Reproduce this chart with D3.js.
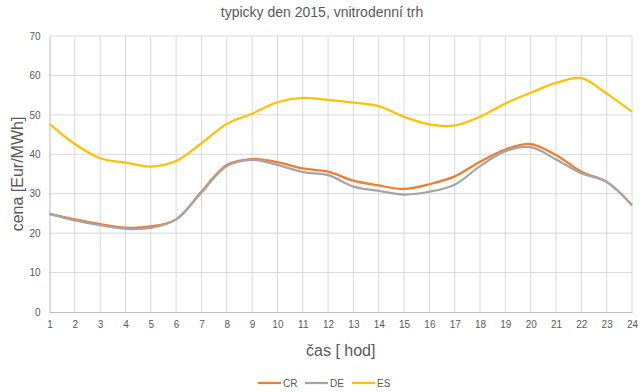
<!DOCTYPE html>
<html>
<head>
<meta charset="utf-8">
<script src="https://cdn.jsdelivr.net/npm/d3@7"></script>
<style>
  body { margin: 0; background: #fff; }
  svg { font-family: "Liberation Sans Narrow", "Liberation Sans", Arial, sans-serif; }
</style>
</head>
<body>
<svg id="chart" width="643" height="392"></svg>
<script>
const hours = d3.range(1, 25);
const seriesNames = ["CR", "DE", "ES"];
const cr = [24.9, 23.5, 22.3, 21.4, 21.7, 23.5, 30.5, 37.3, 38.8, 38.0, 36.4, 35.6,
            33.3, 32.1, 31.2, 32.4, 34.4, 38.1, 41.2, 42.6, 39.8, 35.6, 33.0, 27.1];
const de = [24.9, 23.2, 22.0, 21.1, 21.3, 23.5, 30.3, 37.0, 38.6, 37.3, 35.5, 34.7,
            31.8, 30.7, 29.8, 30.5, 32.3, 37.0, 40.8, 41.8, 38.7, 35.2, 33.0, 27.1];
const es = [47.7, 42.6, 39.0, 37.9, 36.9, 38.3, 42.8, 47.7, 50.3, 53.2, 54.3, 53.8,
            53.1, 52.2, 49.5, 47.6, 47.3, 49.5, 52.9, 55.6, 58.1, 59.3, 55.4, 50.8];
const yTicks = [0, 10, 20, 30, 40, 50, 60, 70];
const colors = ["#ED7D31", "#A5A5A5", "#FFC000"];

const svg = d3.select("#chart");
const margin = { top: 36, right: 11, bottom: 80, left: 49.5 };
const width = 643, height = 392;

const x = d3.scaleLinear().domain([1, 24]).range([margin.left, width - margin.right]);
const y = d3.scaleLinear().domain([0, 70]).range([height - margin.bottom, margin.top]);

// mrizka
svg.append("g")
  .selectAll("line.h")
  .data(yTicks.slice(1))
  .join("line")
  .attr("x1", x(1)).attr("x2", x(24))
  .attr("y1", d => y(d)).attr("y2", d => y(d))
  .attr("stroke", "#d9d9d9").attr("stroke-width", 1);

svg.append("g")
  .selectAll("line.v")
  .data(hours.slice(1))
  .join("line")
  .attr("x1", d => x(d)).attr("x2", d => x(d))
  .attr("y1", y(0)).attr("y2", y(70))
  .attr("stroke", "#d9d9d9").attr("stroke-width", 1);

// osy
const yAxis = svg.append("g")
  .attr("transform", `translate(${x(1)},0)`)
  .call(d3.axisLeft(y).tickValues(yTicks).tickSize(0).tickPadding(9));
yAxis.select(".domain").attr("stroke", "#bfbfbf");
yAxis.selectAll("text").attr("fill", "#595959").style("font-size", "10px");

const xAxis = svg.append("g")
  .attr("transform", `translate(0,${y(0)})`)
  .call(d3.axisBottom(x).tickValues(hours).tickFormat(d3.format("d")).tickSize(0).tickPadding(9));
xAxis.select(".domain").attr("stroke", "#bfbfbf");
xAxis.selectAll("text").attr("fill", "#595959").style("font-size", "10px");

// krivky
const allSeries = [cr, de, es];
const line = d3.line()
  .x((d, i) => x(hours[i]))
  .y(d => y(d))
  .curve(d3.curveCatmullRom.alpha(0.5));

svg.append("g")
  .selectAll("path")
  .data(allSeries)
  .join("path")
  .attr("d", d => line(d))
  .attr("fill", "none")
  .attr("stroke", (_, i) => colors[i])
  .attr("stroke-width", 2.25)
  .attr("stroke-linejoin", "round");

// popisky
svg.append("text")
  .attr("x", 322).attr("y", 17)
  .attr("text-anchor", "middle")
  .attr("fill", "#595959")
  .style("font-size", "14px")
  .text("typicky den 2015, vnitrodenní trh");

svg.append("text")
  .attr("x", (x(1) + x(24)) / 2).attr("y", 356)
  .attr("text-anchor", "middle")
  .attr("fill", "#595959")
  .style("font-size", "16px")
  .text("čas [ hod]");

svg.append("text")
  .attr("transform", `translate(23,${(y(0) + y(70)) / 2}) rotate(-90)`)
  .attr("text-anchor", "middle")
  .attr("fill", "#595959")
  .style("font-size", "16px")
  .text("cena [Eur/MWh]");

// legenda
const legend = svg.append("g").attr("transform", "translate(258,383)");
const item = legend.selectAll("g")
  .data(seriesNames)
  .join("g")
  .attr("transform", (_, i) => `translate(${i * 47},0)`);
item.append("line")
  .attr("x1", 0).attr("x2", 23)
  .attr("stroke", (_, i) => colors[i])
  .attr("stroke-width", 2.25);
item.append("text")
  .attr("x", 25).attr("y", 3.5)
  .attr("fill", "#595959")
  .style("font-size", "10px")
  .text(d => d);
</script>
</body>
</html>
